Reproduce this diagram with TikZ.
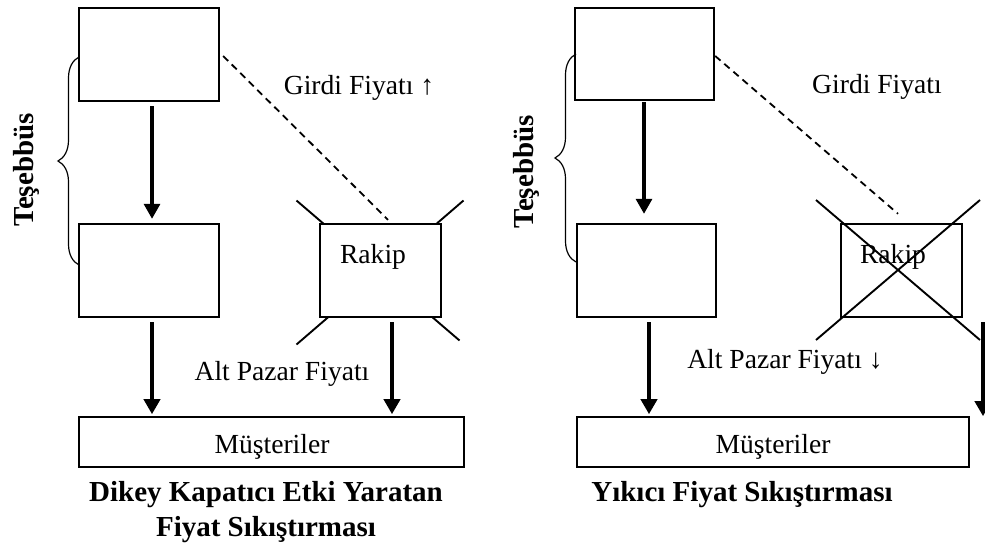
\documentclass[tikz,border=0pt]{standalone}
\usepackage{fontspec}
\setmainfont{Liberation Serif}
\usetikzlibrary{arrows.meta,decorations.pathreplacing}

\begin{document}
\begin{tikzpicture}[x=1pt,y=-1pt,
  box/.style={draw,line width=2.4pt,fill=white,inner sep=0pt,minimum height=93pt},
  flow/.style={line width=4.2pt,-{Triangle[width=16pt,length=15pt]}},
  thinflow/.style={line width=3.2pt,-{Triangle[width=16pt,length=15pt]}},
  lbl/.style={font=\fontsize{27.6}{33}\selectfont,inner sep=0pt,anchor=base},
  ttl/.style={font=\fontsize{29}{35}\selectfont\bfseries,inner sep=0pt,anchor=base},
  side/.style={font=\fontsize{29}{35}\selectfont\bfseries,inner sep=0pt,anchor=base,rotate=90},
  cross/.style={line width=1.9pt},
  link/.style={line width=1.8pt,dash pattern=on 7pt off 5pt},
  brc/.style={line width=1.2pt,decorate,decoration={brace,amplitude=21pt}}
]
\useasboundingbox (0,0) rectangle (985,546);
\clip (0,0) rectangle (985,546);

% ---------------- left panel: vertical foreclosure squeeze ----------------
\coordinate (rcL) at (380.5,270.5);
% competitor marks, partly hidden behind the box
\draw[cross] ([shift={(-84,-70)}]rcL) -- ([shift={(79,70)}]rcL);
\draw[cross] ([shift={(83,-70)}]rcL) -- ([shift={(-84,74)}]rcL);

\node[box,minimum width=140pt] (tlL) at (149,54.5) {};
\node[box,minimum width=140pt] (mlL) at (149,270.5) {};
\node[box,minimum width=121pt] (rakL) at (rcL) {};
\node[lbl] (rakLt) at (373,263) {Rakip};
\node[box,minimum width=385pt,minimum height=50pt] (musL) at (271.5,442) {};
\node[lbl] (musLt) at (272,453) {Müşteriler};

\draw[thinflow] ([shift={(3,4)}]tlL.south) -- ([shift={(3,-4)}]mlL.north);
\draw[flow] ([shift={(3,4)}]mlL.south) -- ([shift={(3,96)}]mlL.south);
\draw[flow] ([shift={(11.5,4)}]rakL.south) -- ([shift={(11.5,96)}]rakL.south);
\draw[link] ([shift={(3,1.5)}]tlL.east) -- ([shift={(7.5,-3)}]rakL.north);

\draw[brc] (79,265) -- (79,57);
\node[side] (tesL) at (33,170) {Teşebbüs};

\node[lbl] (girdiL) at (359,94) {Girdi Fiyatı ↑};
\node[lbl] (altL) at (282,380) {Alt Pazar Fiyatı};
\node[ttl] (ttlL1) at (266,501) {Dikey Kapatıcı Etki Yaratan};
\node[ttl] (ttlL2) at (266,536) {Fiyat Sıkıştırması};

% ---------------- right panel: predatory squeeze ----------------
\coordinate (rcR) at (901.5,270.5);
\node[box,minimum width=139pt,minimum height=92pt] (tlR) at (644.5,54) {};
\node[box,minimum width=139pt] (mlR) at (646.5,270.5) {};
\node[box,minimum width=121pt] (rakR) at (rcR) {};
\node[lbl] (rakRt) at (893,263) {Rakip};
% competitor crossed out
\draw[cross] ([shift={(-85.5,-70.5)}]rcR) -- ([shift={(78.5,69.5)}]rcR);
\draw[cross] ([shift={(78.5,-70.5)}]rcR) -- ([shift={(-85.5,69.5)}]rcR);

\node[box,minimum width=392pt,minimum height=50pt] (musR) at (773,442) {};
\node[lbl] (musRt) at (773,453) {Müşteriler};

\draw[thinflow] ([shift={(-0.5,1)}]tlR.south) -- ([shift={(-2.5,-9)}]mlR.north);
\draw[flow] ([shift={(2.5,4)}]mlR.south) -- ([shift={(2.5,96)}]mlR.south);
\draw[flow] ([shift={(81.5,4)}]rakR.south) -- ([shift={(81.5,98)}]rakR.south);
\draw[link] ([shift={(0,2)}]tlR.east) -- ([shift={(-3.5,-9)}]rakR.north);

\draw[brc] (576,262) -- (576,54);
\node[side] (tesR) at (533,172) {Teşebbüs};

\node[lbl] (girdiR) at (877,93) {Girdi Fiyatı};
\node[lbl] (altR) at (785,368) {Alt Pazar Fiyatı ↓};
\node[ttl] (ttlR) at (742,501) {Yıkıcı Fiyat Sıkıştırması};
\end{tikzpicture}
\end{document}
